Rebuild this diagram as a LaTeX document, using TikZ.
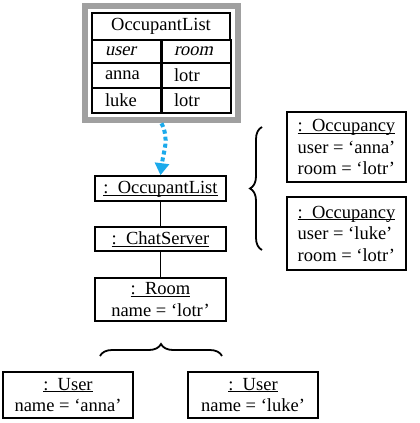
\documentclass[tikz,border=0pt]{standalone}
\usepackage{fontspec}
\setmainfont{Liberation Serif}[ItalicFont={Liberation Serif}, ItalicFeatures={FakeSlant=0.21}]
\usepackage{xcolor}
\definecolor{framegray}{RGB}{160,160,160}
\definecolor{derivecyan}{RGB}{28,170,235}
\usepackage{tikz}
\usetikzlibrary{arrows.meta,positioning,calc,fit,decorations.pathreplacing}

\newcommand{\objname}[1]{\underline{\raisebox{0pt}[\height][0pt]{:\ \ #1}}}

\begin{document}
\begin{tikzpicture}[
  x=1pt, y=-1pt,
  font=\fontsize{18.5}{21.5}\selectfont,
  objbox/.style={rectangle, draw=black, line width=1.6pt,
                 minimum width=131pt, minimum height=25pt,
                 align=center, inner sep=2pt},
  occbox/.style={rectangle, draw=black, line width=1.6pt,
                 minimum width=119pt, minimum height=70pt,
                 align=left, inner sep=2pt},
  cell/.style={rectangle, draw=black, line width=1.6pt,
               text width=44pt, minimum height=24pt,
               align=left, inner xsep=13pt, inner ysep=0pt},
  tframe/.style={rectangle, draw=framegray, line width=6pt, inner sep=6.5pt},
  link/.style={line width=1.6pt},
  derarr/.style={-{Triangle[width=14pt,length=12pt]}, line width=4pt,
                 dash pattern=on 4pt off 3pt, color=derivecyan},
  grp/.style={decorate, decoration={brace, amplitude=12pt}, line width=1.8pt}
]
\useasboundingbox (0,0) rectangle (420,423);

%% relational table
\node[cell, text width=112pt, minimum height=27pt, align=center] (title) at (161,26.5) {OccupantList};
\node[cell] (c11) at (127,51.5) {\itshape user};
\node[cell] (c12) at (196,51.5) {\itshape room};
\node[cell, minimum height=25pt] (c21) at (127,75.5) {anna};
\node[cell, minimum height=25pt] (c22) at (196,75.5) {lotr};
\node[cell, minimum height=25pt] (c31) at (127,100.5) {luke};
\node[cell, minimum height=25pt] (c32) at (196,100.5) {lotr};
\node[tframe, fit=(title)(c32)(c31)] (frame) {};

%% objects
\node[objbox] (occlist) at (160.5,188.5) {\objname{OccupantList}};
\node[objbox, minimum height=24pt] (chatsrv) at (160.5,239) {\objname{ChatServer}};
\node[objbox, minimum height=43pt] (room) at (160.5,299.5) {\objname{Room}\\name = ‘lotr’};

\node[occbox] (occ1) at (346.5,147) {\objname{Occupancy}\\user = ‘anna’\\room = ‘lotr’};
\node[occbox, minimum height=73pt] (occ2) at (346.5,233.5) {\objname{Occupancy}\\user = ‘luke’\\room = ‘lotr’};

\node[objbox, minimum width=130pt, minimum height=46pt] (user1) at (68,395) {\objname{User}\\name = ‘anna’};
\node[objbox, minimum width=130pt, minimum height=46pt] (user2) at (253,395) {\objname{User}\\name = ‘luke’};

%% links
\draw[link] (occlist) -- (chatsrv);
\draw[link] (chatsrv) -- (room);
\draw[derarr] (frame.south) .. controls +(8,16) and +(3,-24) .. (occlist.north);

%% braces
\coordinate (rb1) at (262,250);
\coordinate (rb2) at (262,127);
\draw[grp] (rb1) -- (rb2);
\coordinate (ub1) at (100,356);
\coordinate (ub2) at (222,356);
\draw[grp] (ub1) -- (ub2);

\end{tikzpicture}
\end{document}
